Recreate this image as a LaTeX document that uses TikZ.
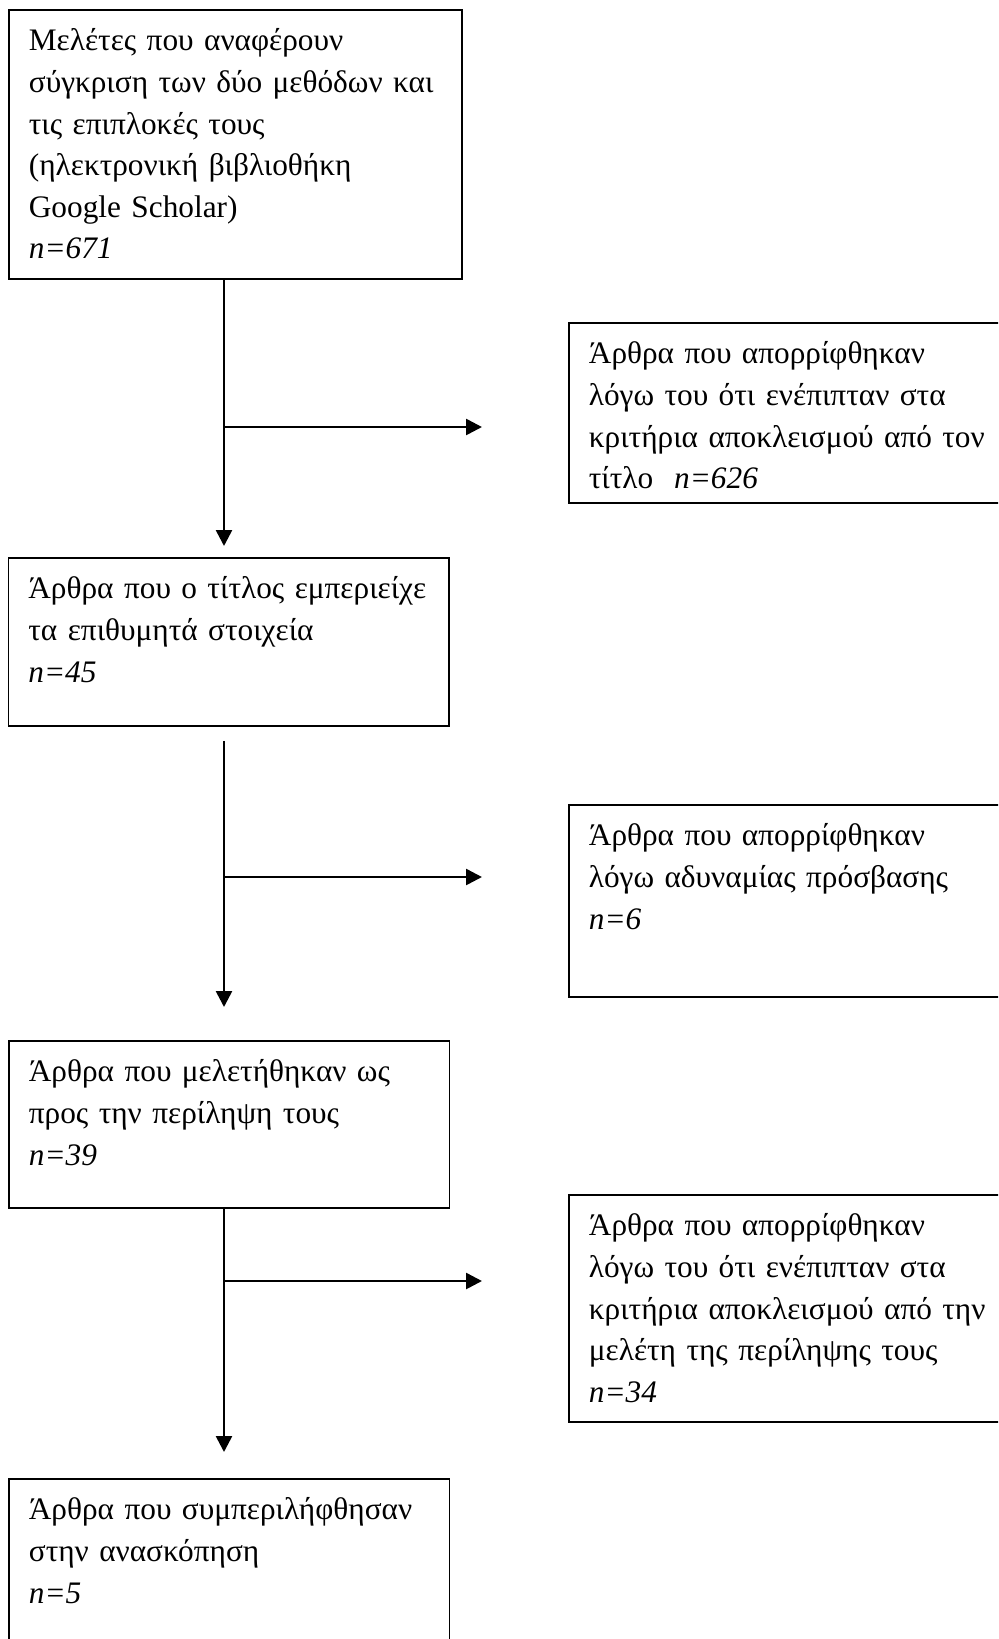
\documentclass[tikz,border=0pt]{standalone}
\usepackage{fontspec}
\setmainfont{Liberation Serif}
\usetikzlibrary{arrows.meta}

\begin{document}
\begin{tikzpicture}[
    x=0.5pt, y=-0.5pt,
    box/.style={rectangle, draw, line width=0.9pt, anchor=north west, align=left,
        inner xsep=10pt, inner ysep=6pt, text height=14.5pt,
        font=\fontsize{15.65pt}{20.8pt}\selectfont},
    stage/.style={box, text width=200.25pt},
    excluded/.style={box, text width=240pt},
    arrow/.style={->, >={Triangle[length=8pt, width=8pt]}, line width=1.3pt}
]
    \path[use as bounding box, clip] (0,0) rectangle (998,1639);

    % records kept at each step
    \node[box, text width=206.5pt, text depth=108pt] (search) at (8,9) {Μελέτες που αναφέρουν\\σύγκριση των δύο μεθόδων και\\τις επιπλοκές τους\\(ηλεκτρονική βιβλιοθήκη\\Google Scholar)\\\textit{n=671}};
    \node[stage, text depth=57.5pt] (title) at (7.5,557) {Άρθρα που ο τίτλος εμπεριείχε\\τα επιθυμητά στοιχεία\\\textit{n=45}};
    \node[stage, text depth=57pt] (abstract) at (8,1040) {Άρθρα που μελετήθηκαν ως\\προς την περίληψη τους\\\textit{n=39}};
    \node[stage, text depth=80pt] (review) at (8,1478) {Άρθρα που συμπεριλήφθησαν\\στην ανασκόπηση\\\textit{n=5}};

    % records left out at each step
    \node[excluded, text depth=63.5pt] (outtitle) at (568,322) {Άρθρα που απορρίφθηκαν\\λόγω του ότι ενέπιπταν στα\\κριτήρια αποκλεισμού από τον\\τίτλο\ \ \textit{n=626}};
    \node[excluded, text depth=69.5pt] (outaccess) at (568,804) {Άρθρα που απορρίφθηκαν\\λόγω αδυναμίας πρόσβασης\\\textit{n=6}};
    \node[excluded, text depth=87pt] (outabstract) at (568,1194) {Άρθρα που απορρίφθηκαν\\λόγω του ότι ενέπιπταν στα\\κριτήρια αποκλεισμού από την\\μελέτη της περίληψης τους\\\textit{n=34}};

    \coordinate (tip1) at (224,546);
    \coordinate (fork1) at (224,427);
    \coordinate (end1) at (482,427);
    \coordinate (tip2) at (224,1007);
    \coordinate (fork2) at (224,877);
    \coordinate (end2) at (482,877);
    \coordinate (tip3) at (224,1452);
    \coordinate (fork3) at (224,1281);
    \coordinate (end3) at (482,1281);

    \draw[arrow] (search.south -| tip1) -- (tip1);
    \draw[arrow] (fork1) -- (end1);
    \draw[arrow] ([yshift=-7pt]title.south -| tip2) -- (tip2);
    \draw[arrow] (fork2) -- (end2);
    \draw[arrow] (abstract.south -| tip3) -- (tip3);
    \draw[arrow] (fork3) -- (end3);
\end{tikzpicture}
\end{document}
